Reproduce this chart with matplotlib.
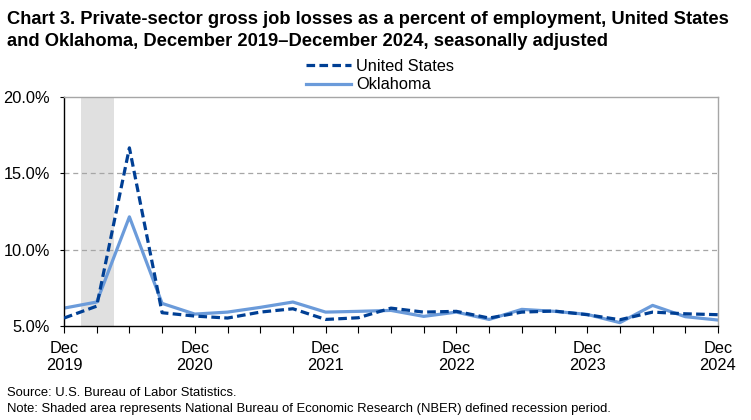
import matplotlib
matplotlib.use("Agg")
import matplotlib.pyplot as plt
from matplotlib.ticker import FixedLocator

plt.rcParams['font.family'] = ['Liberation Sans', 'DejaVu Sans']

quarters = list(range(21))
tick_labels = ["Dec\n2019", "Dec\n2020", "Dec\n2021", "Dec\n2022", "Dec\n2023", "Dec\n2024"]
us = [5.52, 6.30, 16.67, 5.87, 5.65, 5.52, 5.91, 6.13, 5.43, 5.54,
      6.17, 5.91, 5.96, 5.52, 5.91, 5.98, 5.74, 5.41, 5.91, 5.80, 5.74]
ok = [6.17, 6.57, 12.15, 6.48, 5.78, 5.91, 6.22, 6.57, 5.91, 5.96,
      6.02, 5.63, 5.91, 5.43, 6.09, 5.96, 5.76, 5.22, 6.35, 5.61, 5.39]
recession = (0.52, 1.53)

fig = plt.figure(figsize=(7.51, 4.20), dpi=100)
ax = fig.add_axes([64/751, 1-326/420, (718-64)/751, (326-97)/420])

ax.axvspan(recession[0], recession[1], color='#e0e0e0', lw=0, zorder=0)
for y in [10, 15]:
    ax.axhline(y, color='#a6a6a6', lw=0.9, ls=(0, (4, 3)), zorder=1)

l1, = ax.plot(quarters, us, color='#003f94', lw=2.3, ls=(0, (2.7, 1.35)), label='United States', zorder=3)
l2, = ax.plot(quarters, ok, color='#6b9bda', lw=2.3, label='Oklahoma', zorder=2)

ax.set_xlim(0, 20)
ax.set_ylim(5, 20)
ax.set_yticks([5, 10, 15, 20])
ax.set_yticklabels(['5.0%', '10.0%', '15.0%', '20.0%'], fontsize=11.8)
ax.set_xticks([0, 4, 8, 12, 16, 20])
ax.set_xticklabels(tick_labels, fontsize=11.8, linespacing=1.12)
ax.xaxis.set_minor_locator(FixedLocator(quarters))
ax.tick_params(axis='x', which='both', direction='out', length=5, width=0.8, color='black', pad=6)
ax.tick_params(axis='y', direction='out', length=3, width=0.8, color='black', pad=7)

for s in ['top', 'right']:
    ax.spines[s].set_color('#a6a6a6')
    ax.spines[s].set_linewidth(1.0)
for s in ['left', 'bottom']:
    ax.spines[s].set_color('black')
    ax.spines[s].set_linewidth(1.0)

fig.legend(handles=[l1, l2], loc='center', bbox_to_anchor=(380/751, 1-75.5/420),
           frameon=False, fontsize=11.8, handlelength=2.8, handletextpad=0.3,
           labelspacing=0.22, borderaxespad=0, borderpad=0)

fig.text(7/751, 1-24.5/420, "Chart 3. Private-sector gross job losses as a percent of employment, United States",
         fontsize=13.25, fontweight='bold', ha='left', va='baseline')
fig.text(7/751, 1-45.5/420, "and Oklahoma, December 2019\u2013December 2024, seasonally adjusted",
         fontsize=13.25, fontweight='bold', ha='left', va='baseline')
fig.text(7/751, 1-393/420, "Source: U.S. Bureau of Labor Statistics.", fontsize=9.4, ha='left', va='center')
fig.text(7/751, 1-409/420, "Note: Shaded area represents National Bureau of Economic Research (NBER) defined recession period.",
         fontsize=9.4, ha='left', va='center')

fig.savefig('out.png', dpi=100)
